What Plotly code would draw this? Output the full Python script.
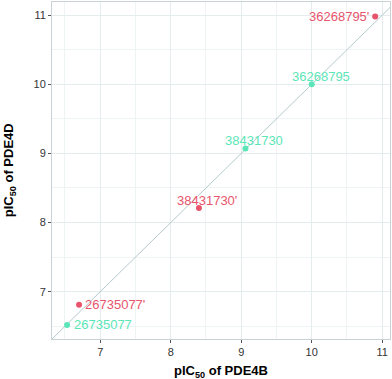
import plotly.graph_objects as go

# Data
labels_4b = ["36268795", "38431730", "26735077"]
x_4b = [10.00, 9.06, 6.53]
y_4b = [10.00, 9.07, 6.52]

labels_4d = ["36268795'", "38431730'", "26735077'"]
x_4d = [10.90, 8.40, 6.70]
y_4d = [10.98, 8.21, 6.81]

x_range = [6.316, 11.11]
y_range = [6.316, 11.19]
tick_vals = [7, 8, 9, 10, 11]

RED = "#e8546c"
GREEN = "#5ce6b8"
FONT = "Liberation Sans, Arial, sans-serif"

# label placement (anchor, xshift, yshift) per point
place_4b = [("center", 9, 8), ("center", 9, 8), ("left", 5, 0)]
place_4d = [("right", -4, 0), ("center", 8, 8), ("left", 4, 0)]

fig = go.Figure()

lo = min(x_range[0], y_range[0])
hi = max(x_range[1], y_range[1])
fig.add_trace(go.Scatter(x=[lo, hi], y=[lo, hi], mode="lines",
                         line=dict(color="#b5c9cc", width=1), hoverinfo="skip",
                         showlegend=False))

fig.add_trace(go.Scatter(x=x_4b, y=y_4b, mode="markers",
                         marker=dict(color=GREEN, size=6), showlegend=False))
fig.add_trace(go.Scatter(x=x_4d, y=y_4d, mode="markers",
                         marker=dict(color=RED, size=6), showlegend=False))

for xs, ys, labs, places, col in [(x_4b, y_4b, labels_4b, place_4b, GREEN),
                                  (x_4d, y_4d, labels_4d, place_4d, RED)]:
    for x, y, t, (anc, dx, dy) in zip(xs, ys, labs, places):
        fig.add_annotation(x=x, y=y, text=t, showarrow=False, xanchor=anc,
                           yanchor="middle", xshift=dx, yshift=dy,
                           font=dict(color=col, size=13, family=FONT))

axis_common = dict(
    showgrid=True, gridcolor="#e4ecee", gridwidth=1,
    minor=dict(showgrid=True, gridcolor="#eef3f4", gridwidth=1, dtick=0.5),
    showline=True, linecolor="#c9d3d5", linewidth=1, mirror=True,
    ticks="outside", ticklen=3, tickcolor="#555555", tickwidth=1,
    tickvals=tick_vals, zeroline=False, automargin=False,
    tickfont=dict(family=FONT, size=11, color="#333333"),
)

fig.update_layout(
    width=392, height=379,
    margin=dict(l=52, r=2, t=2, b=40),
    paper_bgcolor="white", plot_bgcolor="white",
    font=dict(family=FONT),
    hovermode=False,
    xaxis=dict(range=x_range, **axis_common),
    yaxis=dict(range=y_range, **axis_common),
)

fig.add_annotation(xref="paper", yref="paper", x=0.5, y=-0.095, yanchor="middle",
                   text="<b>pIC<sub>50</sub> of PDE4B</b>", showarrow=False,
                   font=dict(family=FONT, size=13, color="black"))
fig.add_annotation(xref="paper", yref="paper", x=-0.125, y=0.5, xanchor="center",
                   text="<b>pIC<sub>50</sub> of PDE4D</b>", showarrow=False, textangle=-90,
                   font=dict(family=FONT, size=13, color="black"))

fig.write_html("out.html", config={"displayModeBar": False},
               post_script="document.body.style.margin='0';document.body.style.overflow='hidden';")
